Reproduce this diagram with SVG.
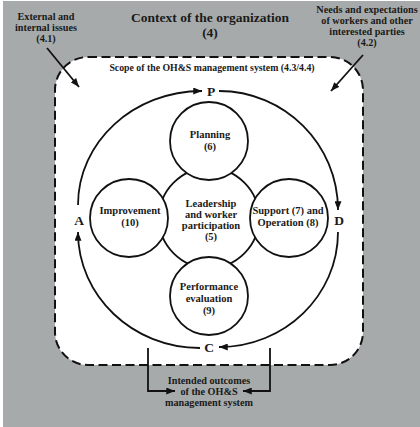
<svg xmlns="http://www.w3.org/2000/svg" width="420" height="427" viewBox="0 0 420 427">
<defs>
<marker id="ah" viewBox="0 0 10 8" refX="10" refY="4" markerWidth="9" markerHeight="7" markerUnits="userSpaceOnUse" orient="auto">
<path d="M0,0 L10,4 L0,8 Z" fill="#111"/>
</marker>
<style>
text{font-family:"Liberation Serif","Times New Roman",serif;font-weight:bold;fill:#1a1a1a;text-anchor:middle}
.t{font-size:13.5px}
.s{font-size:10.2px}
.sc{font-size:9.8px}
.m{font-size:10.5px}
.l{font-size:13.5px}
.c{fill:#fff;stroke:#111;stroke-width:1.8}
.e{fill:none;stroke:#111;stroke-width:1.8}
</style>
</defs>
<rect x="0" y="0" width="420" height="427" fill="#fff"/>
<rect x="3" y="1" width="417" height="426" fill="#a7aaaa"/>
<g id="scope">
<rect x="55" y="57" width="308" height="308" rx="33" ry="33" fill="#fff" stroke="#111" stroke-width="2" stroke-dasharray="9,4.5"/>
<text class="sc" x="212" y="71">Scope of the OH&amp;S management system (4.3/4.4)</text>
</g>
<g id="title">
<text class="t" x="210" y="22">Context of the organization</text>
<text class="t" x="210" y="37">(4)</text>
</g>
<g id="external">
<text class="s" x="46" y="20">External and</text>
<text class="s" x="46" y="31">internal issues</text>
<text class="s" x="46" y="42">(4.1)</text>
</g>
<g id="needs">
<text class="s" x="367" y="13">Needs and expectations</text>
<text class="s" x="367" y="24">of workers and other</text>
<text class="s" x="367" y="35">interested parties</text>
<text class="s" x="367" y="46">(4.2)</text>
</g>
<g id="outcomes">
<text class="s" x="209" y="384">Intended outcomes</text>
<text class="s" x="209" y="395">of the OH&amp;S</text>
<text class="s" x="209" y="406">management system</text>
</g>
<g id="leadership">
<circle class="c" cx="209" cy="218" r="50"/>
<text class="m" x="211" y="207">Leadership</text>
<text class="m" x="211" y="218">and worker</text>
<text class="m" x="211" y="229">participation</text>
<text class="m" x="211" y="240">(5)</text>
</g>
<g id="planning">
<circle class="c" cx="209" cy="141" r="39"/>
<text class="m" x="210" y="138">Planning</text>
<text class="m" x="210" y="150">(6)</text>
</g>
<g id="improvement">
<circle class="c" cx="129" cy="218" r="39"/>
<text class="m" x="130" y="214">Improvement</text>
<text class="m" x="130" y="226">(10)</text>
</g>
<g id="support">
<circle class="c" cx="289" cy="218" r="39"/>
<text class="m" x="288" y="214">Support (7) and</text>
<text class="m" x="288" y="226">Operation (8)</text>
</g>
<g id="performance">
<circle class="c" cx="209" cy="296" r="39"/>
<text class="m" x="209" y="290">Performance</text>
<text class="m" x="209" y="302">evaluation</text>
<text class="m" x="209" y="314">(9)</text>
</g>
<g id="p"><text class="l" x="211" y="96">P</text></g>
<g id="d"><text class="l" x="339" y="225">D</text></g>
<g id="c"><text class="l" x="209" y="352">C</text></g>
<g id="a"><text class="l" x="79" y="225">A</text></g>
<g id="connectors">
<path class="e" d="M78,205 C78,142 133.5,91 202,91" marker-end="url(#ah)"/>
<path class="e" d="M219,91 C284.7,91 338,144.3 338,210" marker-end="url(#ah)"/>
<path class="e" d="M338,232 C338,295.5 284.7,347 219,347" marker-end="url(#ah)"/>
<path class="e" d="M200,348 C132.6,348 78,296 78,232" marker-end="url(#ah)"/>
<path class="e" d="M47,48 L79,87" marker-end="url(#ah)"/>
<path class="e" d="M363,55 L331,91" marker-end="url(#ah)"/>
<path class="e" d="M148,348 L148,391 L175,391" marker-end="url(#ah)"/>
<path class="e" d="M270,348 L270,391 L243,391" marker-end="url(#ah)"/>
</g>
</svg>
